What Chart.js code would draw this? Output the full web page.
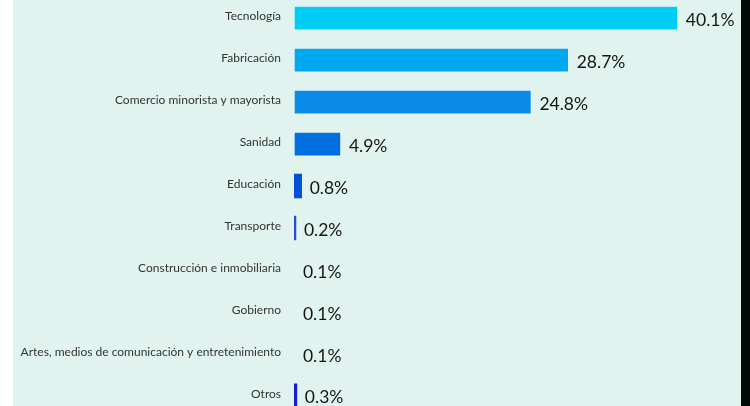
<!DOCTYPE html>
<html>
<head>
<meta charset="utf-8">
<script src="https://cdn.jsdelivr.net/npm/chart.js@4"></script>
<style>
  html, body { margin: 0; padding: 0; width: 750px; height: 406px; overflow: hidden; background: #ffffff; }
  #panel { position: absolute; left: 13px; top: 0; width: 728px; height: 406px; background: #e0f3ef; overflow: hidden; }
  #edge { position: absolute; left: 741px; top: 0; width: 9px; height: 406px; background: #020a08; }
  /* the axis adds ~20px above and below the plot, so the wrapper sticks out to crop the bars like the original */
  #wrap { position: absolute; left: 0; top: -23px; width: 728px; height: 460px; }
</style>
</head>
<body>
<div id="panel"><div id="wrap"><canvas id="chart"></canvas></div></div>
<div id="edge"></div>
<script>
// Sectores y su porcentaje
const sectors = [
    'Tecnología',
    'Fabricación',
    'Comercio minorista y mayorista',
    'Sanidad',
    'Educación',
    'Transporte',
    'Construcción e inmobiliaria',
    'Gobierno',
    'Artes, medios de comunicación y entretenimiento',
    'Otros'
];
const shares = [40.1, 28.7, 24.8, 4.9, 0.8, 0.2, 0.1, 0.1, 0.1, 0.3];
const shareLabels = ['40.1%', '28.7%', '24.8%', '4.9%', '0.8%', '0.2%', '0.1%', '0.1%', '0.1%', '0.3%'];

// top / bottom colour of each bar
const topColors = ['#00cdf3', '#00a9ed', '#0a8be7', '#0070e0', '#0050dc', '#2a4ae6', 'rgba(0,0,0,0)', 'rgba(0,0,0,0)', 'rgba(0,0,0,0)', '#1c1cd2'];
const bottomColors = ['#00bbe9', '#0096e1', '#0074d9', '#005ed5', '#0040d2', '#2a44e0', 'rgba(0,0,0,0)', 'rgba(0,0,0,0)', 'rgba(0,0,0,0)', '#1414c6'];

function barFill(context) {
    const chart = context.chart;
    const idx = context.dataIndex;
    const el = chart.getDatasetMeta(0).data[idx];
    if (!el || el.y === undefined) return topColors[idx];
    const half = el.height / 2;
    const g = chart.ctx.createLinearGradient(0, el.y - half, 0, el.y + half);
    g.addColorStop(0, topColors[idx]);
    g.addColorStop(1, bottomColors[idx]);
    return g;
}

// draws the percentage after each bar
const valueLabels = {
    id: 'valueLabels',
    afterDatasetsDraw(chart) {
        const ctx = chart.ctx;
        const meta = chart.getDatasetMeta(0);
        ctx.save();
        ctx.font = '17.5px Lato';
        ctx.fillStyle = '#151515';
        ctx.textAlign = 'left';
        ctx.textBaseline = 'middle';
        meta.data.forEach((bar, i) => {
            ctx.fillText(shareLabels[i], bar.x + 8, bar.y + 2);
        });
        ctx.restore();
    }
};

new Chart(document.getElementById('chart'), {
    type: 'bar',
    data: {
        labels: sectors,
        datasets: [{
            data: shares,
            backgroundColor: barFill,
            borderColor: 'rgba(255,255,255,0.3)',
            borderWidth: ctx => (ctx.raw >= 1 ? 1 : 0),
            borderSkipped: false,
            barThickness: 24
        }]
    },
    options: {
        indexAxis: 'y',
        responsive: true,
        maintainAspectRatio: false,
        animation: false,
        layout: { padding: 0 },
        plugins: {
            legend: { display: false },
            tooltip: { enabled: false }
        },
        scales: {
            x: {
                display: false,
                min: 0,
                max: 46.7
            },
            y: {
                grid: { display: false, drawTicks: false },
                border: { display: false },
                afterFit(scale) { scale.width = 281; },
                ticks: {
                    padding: 13,
                    labelOffset: -2,
                    color: '#333333',
                    font: { family: 'Lato', size: 12 }
                }
            }
        }
    },
    plugins: [valueLabels]
});
</script>
</body>
</html>
